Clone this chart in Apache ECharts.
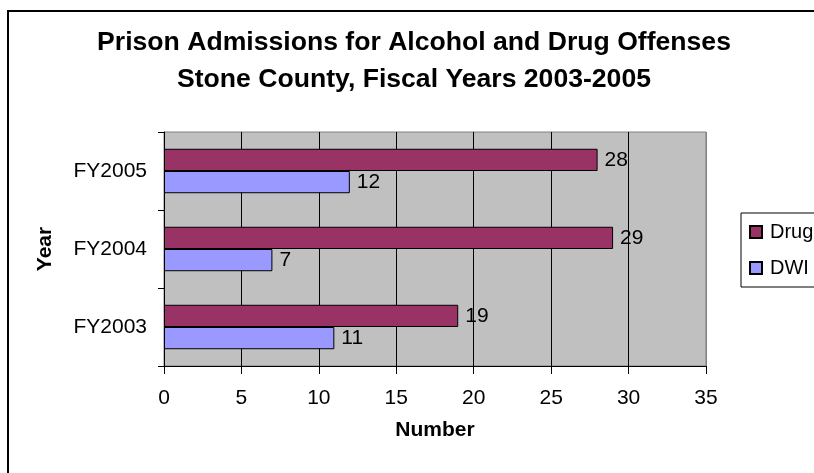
<!DOCTYPE html>
<html>
<head>
<meta charset="utf-8">
<style>
  html, body { margin: 0; padding: 0; background: #ffffff; }
  #chart { width: 814px; height: 473px; }
</style>
<script src="https://cdn.jsdelivr.net/npm/echarts@6/dist/echarts.min.js"></script>
</head>
<body>
<div id="chart"></div>
<script>
// Fiscal years, listed bottom to top on the category axis
const years = ['FY2003', 'FY2004', 'FY2005'];
// Prison admissions per year
const drugValues = [19, 29, 28];
const dwiValues = [11, 7, 12];
// Value axis ticks
const xMin = 0;
const xMax = 35;
const xStep = 5;

const FONT = '"Liberation Sans", Arial, Helvetica, sans-serif';

const chart = echarts.init(document.getElementById('chart'), null, { renderer: 'canvas' });

const barLabel = {
  show: true,
  position: 'right',
  distance: 7,
  color: '#000',
  fontFamily: FONT,
  fontSize: 21
};

chart.setOption({
  animation: false,
  backgroundColor: '#ffffff',
  graphic: [
    {
      type: 'rect',
      silent: true,
      shape: { x: 8, y: 11, width: 830, height: 480 },
      style: { fill: 'none', stroke: '#000', lineWidth: 2 }
    },
    {
      type: 'text',
      silent: true,
      style: {
        text: 'Prison Admissions for Alcohol and Drug Offenses',
        x: 414, y: 43, align: 'center', verticalAlign: 'middle',
        font: 'bold 26.6px ' + FONT, fill: '#000'
      }
    },
    {
      type: 'text',
      silent: true,
      style: {
        text: 'Stone County, Fiscal Years 2003-2005',
        x: 414, y: 80, align: 'center', verticalAlign: 'middle',
        font: 'bold 26.6px ' + FONT, fill: '#000'
      }
    }
  ],
  grid: {
    left: 164, right: 108, top: 132, bottom: 107,
    show: true,
    backgroundColor: '#C0C0C0',
    borderColor: '#808080',
    borderWidth: 1
  },
  legend: {
    orient: 'vertical',
    left: 741, top: 213,
    data: ['Drug', 'DWI'],
    icon: 'rect',
    itemWidth: 12, itemHeight: 12,
    itemGap: 16,
    padding: [9, 10, 9, 8],
    borderColor: '#000', borderWidth: 1,
    backgroundColor: '#fff',
    textStyle: { fontFamily: FONT, fontSize: 20, color: '#000', padding: [0, 0, 0, 3] }
  },
  xAxis: {
    type: 'value',
    min: xMin, max: xMax, interval: xStep,
    name: 'Number',
    nameLocation: 'middle',
    nameGap: 54,
    nameTextStyle: { fontFamily: FONT, fontSize: 21, fontWeight: 'bold', color: '#000' },
    axisLine: { show: true, lineStyle: { color: '#000', width: 1 } },
    axisTick: { show: true, length: 8, lineStyle: { color: '#000' } },
    axisLabel: { margin: 22, fontFamily: FONT, fontSize: 21, color: '#000' },
    splitLine: {
      show: true,
      lineStyle: { color: ['#000', '#000', '#000', '#000', '#000', '#000', '#000', '#808080'], width: 1 }
    }
  },
  yAxis: {
    type: 'category',
    data: years,
    name: 'Year',
    nameLocation: 'middle',
    nameGap: 108,
    nameRotate: 90,
    nameTextStyle: { fontFamily: FONT, fontSize: 21, fontWeight: 'bold', color: '#000' },
    axisLine: { show: true, lineStyle: { color: '#000', width: 1 } },
    axisTick: { show: true, length: 6, lineStyle: { color: '#000' } },
    axisLabel: { margin: 17, fontFamily: FONT, fontSize: 21, color: '#000' },
    splitLine: { show: false }
  },
  series: [
    {
      name: 'Drug',
      type: 'bar',
      data: drugValues,
      barGap: '0%',
      barCategoryGap: '43%',
      itemStyle: { color: '#993366', borderColor: '#000', borderWidth: 1 },
      label: barLabel
    },
    {
      name: 'DWI',
      type: 'bar',
      data: dwiValues,
      barGap: '0%',
      barCategoryGap: '43%',
      itemStyle: { color: '#9999FF', borderColor: '#000', borderWidth: 1 },
      label: barLabel
    }
  ]
});
</script>
</body>
</html>
